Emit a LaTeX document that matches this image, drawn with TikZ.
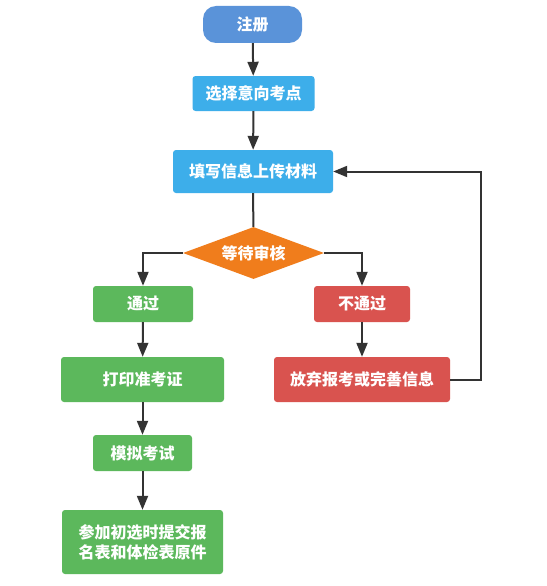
\documentclass[tikz,border=0pt]{standalone}
\usepackage{fontspec}
\newfontfamily\cjk{Noto Sans CJK SC}
\usetikzlibrary{arrows.meta,shapes.geometric}
\definecolor{cStart}{HTML}{5A93D9}
\definecolor{cBlue}{HTML}{3DAEEA}
\definecolor{cOrange}{HTML}{F07D1C}
\definecolor{cGreen}{HTML}{5CB85C}
\definecolor{cRed}{HTML}{D9534F}
\definecolor{cLine}{HTML}{333333}
\tikzset{
  box/.style={rectangle, rounded corners=3pt, inner sep=0pt, text=white,
    font=\cjk\bfseries\fontsize{16}{20}\selectfont, align=center},
  flow/.style={draw=cLine, line width=2pt, -{Triangle[length=14pt,width=11pt]}},
  plain/.style={draw=cLine, line width=2pt}
}
\begin{document}
\begin{tikzpicture}[x=1pt,y=-1pt]
\useasboundingbox (0,0) rectangle (546,586);
\fill[white] (0,0) rectangle (546,586);
\node[box, fill=cStart, rounded corners=13pt, minimum width=99pt, minimum height=37pt] (reg) at (252.5,24.5) {注册};
\node[box, fill=cBlue, minimum width=122pt, minimum height=35pt] (sel) at (253.5,93.5) {选择意向考点};
\node[box, fill=cBlue, minimum width=160pt, minimum height=43pt] (fill) at (253,171.5) {填写信息上传材料};
\node[diamond, fill=cOrange, text=white, font=\cjk\bfseries\fontsize{16}{20}\selectfont, inner sep=0pt, shape aspect=2.7, minimum width=141pt, minimum height=52pt] (wait) at (253.5,253) {等待审核};
\node[box, fill=cGreen, minimum width=100pt, minimum height=36pt] (pass) at (143,304) {通过};
\node[box, fill=cRed, minimum width=96pt, minimum height=36pt] (fail) at (362,304) {不通过};
\node[box, fill=cGreen, minimum width=163pt, minimum height=45pt] (print) at (142.5,379.5) {打印准考证};
\node[box, fill=cRed, minimum width=176pt, minimum height=45pt] (quit) at (362,379.5) {放弃报考或完善信息};
\node[box, fill=cGreen, minimum width=99pt, minimum height=36pt] (mock) at (142.5,453) {模拟考试};
\node[box, fill=cGreen, minimum width=161pt, minimum height=64pt] (final) at (142.5,542) {参加初选时提交报\\名表和体检表原件};
\coordinate (back) at (481,379.5);
\draw[flow] (reg) -- (sel);
\draw[flow] (sel) -- (fill);
\draw[plain] (fill) -- (wait);
\draw[flow] (wait.west) -| (pass.north);
\draw[flow] (wait.east) -| (fail.north);
\draw[flow] (pass) -- (print);
\draw[flow] (print) -- (mock);
\draw[flow] (mock) -- (final);
\draw[flow] (fail) -- (quit);
\draw[flow] (quit.east) -- (back) |- (fill.east);
\end{tikzpicture}
\end{document}
